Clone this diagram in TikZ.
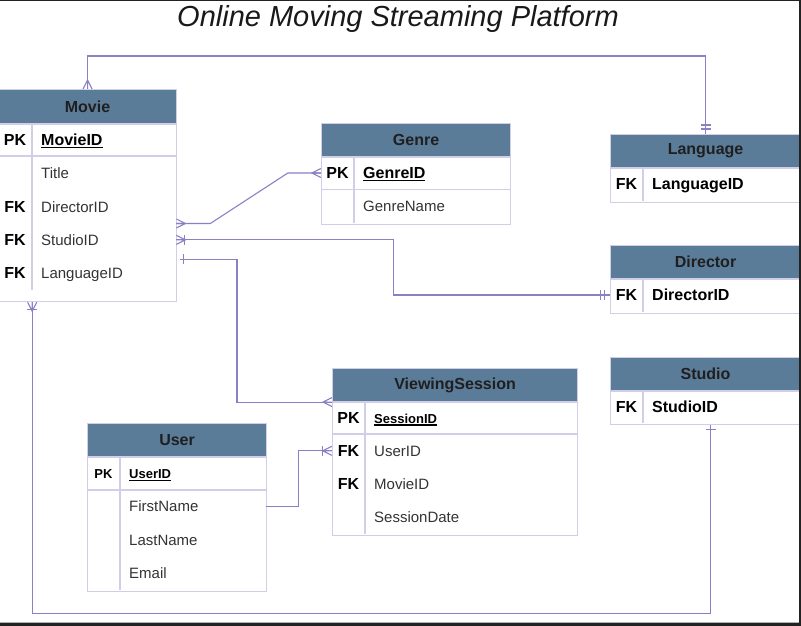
\documentclass[tikz,border=0pt]{standalone}
\usepackage{fontspec}
\setmainfont{Liberation Sans}
\usetikzlibrary{calc}

\definecolor{hdrfill}{HTML}{5B7C99}
\definecolor{tblline}{HTML}{D2CEE8}
\definecolor{connline}{HTML}{8A80C4}
\definecolor{fldtext}{HTML}{333333}
\definecolor{framegray}{HTML}{222222}

\newcommand\fsize[1]{\fontsize{#1}{#1}\selectfont}
\newcommand\pkfield[2]{\color{black}\bfseries\fsize{#1}\setbox0\hbox{#2}\rlap{\rule[-2.5pt]{\wd0}{1.1pt}}\box0}
\newcommand\fkfield[1]{\color{black}\bfseries\fsize{16}#1}

\tikzset{
  tbl/.style={draw=tblline, line width=1.1pt, inner sep=0pt, anchor=north west},
  hdr/.style={tbl, fill=hdrfill, text=black!88, minimum height=33pt, font=\bfseries\fsize{16}},
  keycell/.style={inner sep=0pt, minimum height=33.3pt, text height=12pt, text depth=1pt, font=\bfseries\fsize{16}},
  fldcell/.style={inner sep=0pt, anchor=west, minimum height=33.3pt, text height=12pt, text depth=1pt, align=left, text=fldtext, font=\fsize{15}},
  rowline/.style={draw=tblline, line width=1.1pt},
  conn/.style={draw=connline, line width=1.1pt},
  crow/.pic={\draw[conn] (0,-4.5) -- (9,0) -- (0,4.5) (0,0) -- (9,0);},
  bar/.pic={\draw[conn] (#1,-5) -- (#1,5);},
}

\begin{document}
\begin{tikzpicture}[x=1pt,y=-1pt]
  \useasboundingbox (0,0) rectangle (801,626);
  \node[font=\itshape\fsize{29}, text=black!90] (title) at (398,19) {Online Moving Streaming Platform};

  % Movie
  \node[hdr, minimum width=178pt, minimum height=34pt] (movie) at (-2,89) {Movie};
  \node[tbl, minimum width=178pt, minimum height=177pt] (movie-b) at (movie.south west) {};
  \draw[rowline] (-2,156) -- (176,156) (32,123) -- (32,290);
  \foreach \k/\f [count=\i, evaluate=\i as \yy using 140+33.3*(\i-1)] in {PK/\pkfield{16}{MovieID},/Title,FK/DirectorID,FK/StudioID,FK/LanguageID}
    {\node[keycell, minimum width=34pt] (movie-k\i) at (15,\yy) {\k};
     \node[fldcell, text width=135pt] (movie-f\i) at (41,\yy) {\f};}

  % Genre
  \node[hdr, minimum width=189pt] (genre) at (321,123) {Genre};
  \node[tbl, minimum width=189pt, minimum height=67pt] (genre-b) at (genre.south west) {};
  \draw[rowline] (321,189.5) -- (510,189.5) (354,156) -- (354,223);
  \foreach \k/\f [count=\i, evaluate=\i as \yy using 173+33.3*(\i-1)] in {PK/\pkfield{16}{GenreID},/GenreName}
    {\node[keycell, minimum width=33pt] (genre-k\i) at (337.5,\yy) {\k};
     \node[fldcell, text width=147pt] (genre-f\i) at (363,\yy) {\f};}

  % Language, Director, Studio
  \node[hdr, minimum width=190pt] (lang) at (610,134) {Language};
  \node[tbl, minimum width=190pt, minimum height=34pt] (lang-b) at (lang.south west) {};
  \draw[rowline] (643,167) -- (643,201);
  \node[keycell, minimum width=33pt] (lang-k1) at (626.5,184) {FK};
  \node[fldcell, text width=148pt] (lang-f1) at (652,184) {\fkfield{LanguageID}};

  \node[hdr, minimum width=190pt] (dir) at (610,245) {Director};
  \node[tbl, minimum width=190pt, minimum height=34pt] (dir-b) at (dir.south west) {};
  \draw[rowline] (643,278) -- (643,312);
  \node[keycell, minimum width=33pt] (dir-k1) at (626.5,295) {FK};
  \node[fldcell, text width=148pt] (dir-f1) at (652,295) {\fkfield{DirectorID}};

  \node[hdr, minimum width=190pt] (studio) at (610,357) {Studio};
  \node[tbl, minimum width=190pt, minimum height=33pt] (studio-b) at (studio.south west) {};
  \draw[rowline] (643,390) -- (643,423);
  \node[keycell, minimum width=33pt] (studio-k1) at (626.5,406.5) {FK};
  \node[fldcell, text width=148pt] (studio-f1) at (652,406.5) {\fkfield{StudioID}};

  % ViewingSession
  \node[hdr, minimum width=245pt] (vs) at (332,368) {ViewingSession};
  \node[tbl, minimum width=245pt, minimum height=133pt] (vs-b) at (vs.south west) {};
  \draw[rowline] (332,434) -- (577,434) (365,401) -- (365,534);
  \foreach \k/\f [count=\i, evaluate=\i as \yy using 417.5+33.3*(\i-1)] in {PK/\pkfield{13}{SessionID},FK/UserID,FK/MovieID,/SessionDate}
    {\node[keycell, minimum width=33pt] (vs-k\i) at (348.5,\yy) {\k};
     \node[fldcell, text width=203pt] (vs-f\i) at (374,\yy) {\f};}

  % User
  \node[hdr, minimum width=179pt] (user) at (87,423) {User};
  \node[tbl, minimum width=179pt, minimum height=134pt] (user-b) at (user.south west) {};
  \draw[rowline] (87,490) -- (266,490) (120,456) -- (120,590);
  \foreach \k/\f [count=\i, evaluate=\i as \yy using 473+33.4*(\i-1)] in {{\fsize{13}PK}/\pkfield{13}{UserID},/FirstName,/LastName,/Email}
    {\node[keycell, minimum width=33pt] (user-k\i) at (103.5,\yy) {\k};
     \node[fldcell, text width=137pt] (user-f\i) at (129,\yy) {\f};}

  % relationships
  \coordinate (mvs) at ($(movie-f4.south east)+(4,2.5)$);
  \coordinate (mbot) at (movie-b.south -| movie-k1.east);
  \coordinate (sbot) at ($(studio-b.south)+(5,0)$);
  \draw[conn] (movie.north) -- ++(0,-33) -| (lang.north);
  \draw[conn] (genre-k1.west) -- ++(-33,0) -- ($(movie-f3.south east)+(34,0)$) -- (movie-f3.south east);
  \draw[conn] (dir-k1.west) -- ++(-216,0) |- (movie-f4.east);
  \draw[conn] (vs.south west) -- ++(-95,0) |- (mvs);
  \draw[conn] (user-f2.east) -- ++(32,0) |- (vs-k2.west);
  \draw[conn] (mbot) -- ++(0,311) -| (sbot);

  \pic[rotate=90] at (movie.north) {crow};
  \pic[rotate=90] at (lang.north) {bar=5};
  \pic[rotate=90] at (lang.north) {bar=9};
  \pic[rotate=180] at (genre-k1.west) {crow};
  \pic at (movie-f3.south east) {crow};
  \pic[rotate=180] at (dir-k1.west) {bar=5};
  \pic[rotate=180] at (dir-k1.west) {bar=9};
  \pic at (movie-f4.east) {crow};
  \pic at (movie-f4.east) {bar=8};
  \pic[rotate=180] at (vs.south west) {crow};
  \pic at (mvs) {bar=3};
  \pic[rotate=180] at (vs-k2.west) {crow};
  \pic[rotate=180] at (vs-k2.west) {bar=9};
  \pic[rotate=-90] at (mbot) {crow};
  \pic[rotate=-90] at (mbot) {bar=7};
  \pic[rotate=-90] at (sbot) {bar=4};

  % frame
  \fill[framegray] (0,0) rectangle (801,1) (799,0) rectangle (801,626) (0,622.5) rectangle (801,626);
\end{tikzpicture}
\end{document}
